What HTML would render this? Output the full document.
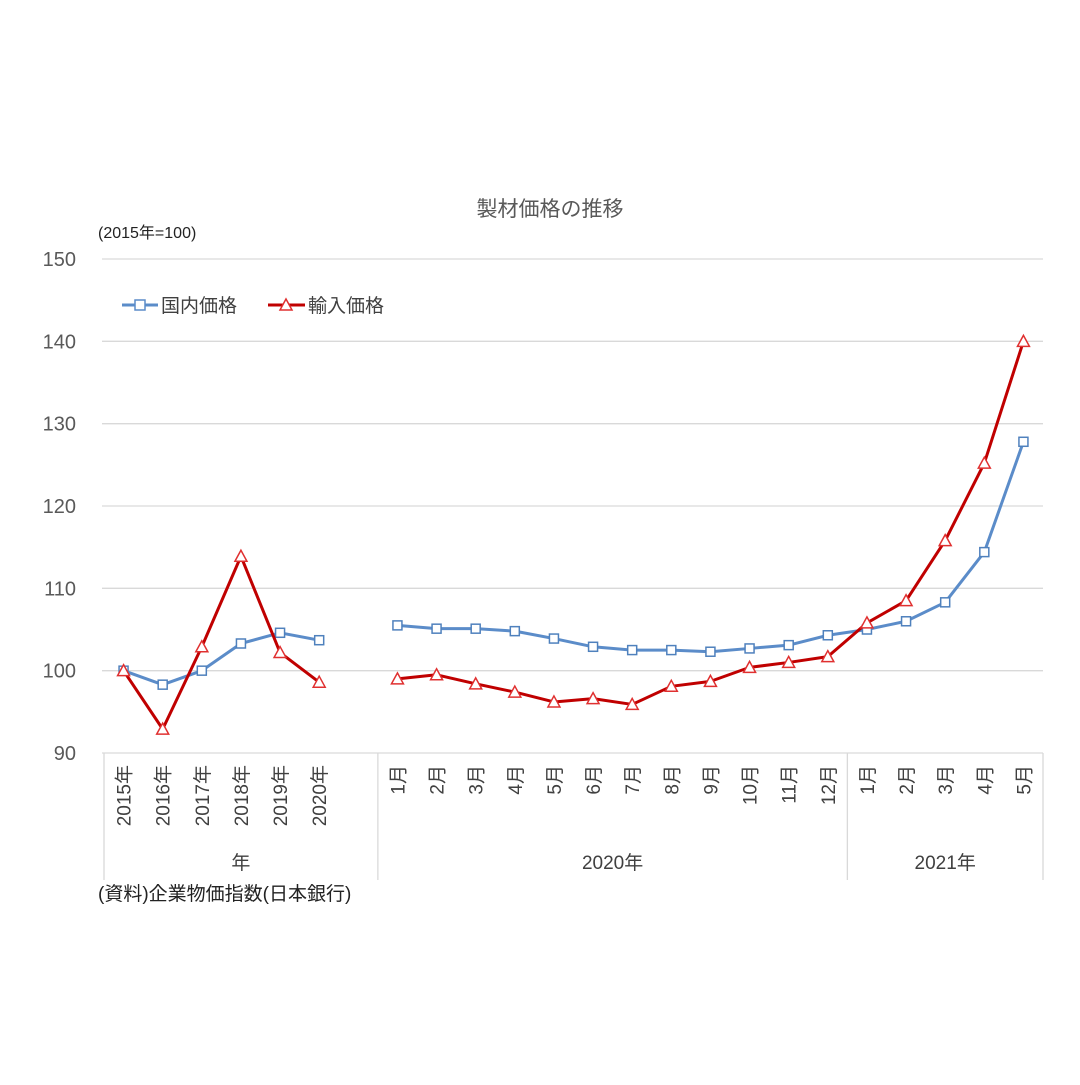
<!DOCTYPE html>
<html><head><meta charset="utf-8"><style>
body{margin:0;background:#fff}
svg text{font-family:"Liberation Sans","Noto Sans CJK JP",sans-serif}
</style></head><body>
<svg id="c" width="1080" height="1080" viewBox="0 0 1080 1080">
<text x="550" y="216" font-size="21" fill="#595959" text-anchor="middle">製材価格の推移</text>
<text x="98" y="238" font-size="16" fill="#222">(2015年=100)</text>
<g id="grid"></g><g id="axis"></g><g id="series"></g>
<g>
<g>
<line x1="122" y1="305" x2="158" y2="305" stroke="#5B8CC9" stroke-width="3"/>
<rect x="135" y="300" width="10" height="10" fill="#fff" stroke="#5B8CC9" stroke-width="1.5"/>
<text x="161" y="312" font-size="19" fill="#404040">国内価格</text></g>
<g>
<line x1="268" y1="305" x2="305" y2="305" stroke="#C00000" stroke-width="3"/>
<polygon points="286,299 292,310 280,310" fill="#fff" stroke="#E03030" stroke-width="1.5"/>
<text x="308" y="312" font-size="19" fill="#404040">輸入価格</text></g>
</g>
<text x="98" y="900" font-size="19" fill="#222">(資料)企業物価指数(日本銀行)</text>
</svg>
<script>
const categories=["2015年","2016年","2017年","2018年","2019年","2020年","","1月","2月","3月","4月","5月","6月","7月","8月","9月","10月","11月","12月","1月","2月","3月","4月","5月"];
const domestic=[100,98.3,100,103.3,104.6,103.7,null,105.5,105.1,105.1,104.8,103.9,102.9,102.5,102.5,102.3,102.7,103.1,104.3,105.0,106.0,108.3,114.4,127.8];
const imported=[100,92.9,102.9,113.9,102.2,98.6,null,99.0,99.5,98.4,97.4,96.2,96.6,95.9,98.1,98.7,100.4,101.0,101.7,105.8,108.5,115.8,125.2,140.0];
const yTicks=[90,100,110,120,130,140,150];
const groups=[{label:"年",from:0,to:6},{label:"2020年",from:7,to:18},{label:"2021年",from:19,to:23}];
const NS="http://www.w3.org/2000/svg";
const X0=104,X1=1043,Y0=753,Y1=259,YMIN=90,YMAX=150;
const step=(X1-X0)/categories.length;
const xs=i=>X0+step*(i+0.5);
const ys=v=>Y0-(v-YMIN)/(YMAX-YMIN)*(Y0-Y1);
function mk(t,a,p){const e=document.createElementNS(NS,t);for(const k in a)e.setAttribute(k,a[k]);p.appendChild(e);return e;}
const grid=document.getElementById('grid'),axis=document.getElementById('axis'),ser=document.getElementById('series');
yTicks.forEach(v=>{
 const l=mk('line',{x1:X0-2,x2:X1,y1:ys(v),y2:ys(v),stroke:'#d9d9d9','stroke-width':1.3},grid);
 
 
 const t=mk('text',{x:76,y:ys(v)+7,'font-size':20,fill:'#595959','text-anchor':'end'},grid);
 t.textContent=v;
 
 
});
const bounds=[X0,X0+step*7,X0+step*19,X1];
bounds.forEach(b=>{
 const l=mk('line',{x1:b,x2:b,y1:Y0,y2:880,stroke:'#d9d9d9','stroke-width':1.3},axis);
 
 
});
categories.forEach((c,i)=>{
 if(!c)return;
 const x=xs(i)+7,y=765;
 const t=mk('text',{x:x,y:y,'font-size':19,fill:'#404040','text-anchor':'end',transform:`rotate(-90 ${x} ${y})`},axis);
 t.textContent=c;
 
 
});
const gb=[[bounds[0],bounds[1]],[bounds[1],bounds[2]],[bounds[2],bounds[3]]];
groups.forEach((g,k)=>{
 const cx=(gb[k][0]+gb[k][1])/2;
 const t=mk('text',{x:cx,y:869,'font-size':19,fill:'#404040','text-anchor':'middle'},axis);
 t.textContent=g.label;
 
 
});
function drawSeries(vals,color,mcolor,marker,name){
 const g=mk('g',{},ser);
 
 
 let d='',pen=false;
 vals.forEach((v,i)=>{if(v==null){pen=false;return;}d+=(pen?'L':'M')+xs(i)+' '+ys(v)+' ';pen=true;});
 const p=mk('path',{d:d,fill:'none',stroke:color,'stroke-width':3,'stroke-linejoin':'round'},g);
 
 
 vals.forEach((v,i)=>{
  if(v==null)return;
  const x=xs(i),y=ys(v);let m;
  if(marker==='sq')m=mk('rect',{x:x-4.5,y:y-4.5,width:9,height:9,fill:'#fff',stroke:mcolor,'stroke-width':1.5},g);
  else m=mk('polygon',{points:`${x},${y-6} ${x+6},${y+5} ${x-6},${y+5}`,fill:'#fff',stroke:mcolor,'stroke-width':1.5},g);
  
  
 });
}
drawSeries(domestic,'#5B8CC9','#4F81BD','sq','domestic');
drawSeries(imported,'#C00000','#E03030','tri','import');
</script>
</body></html>
